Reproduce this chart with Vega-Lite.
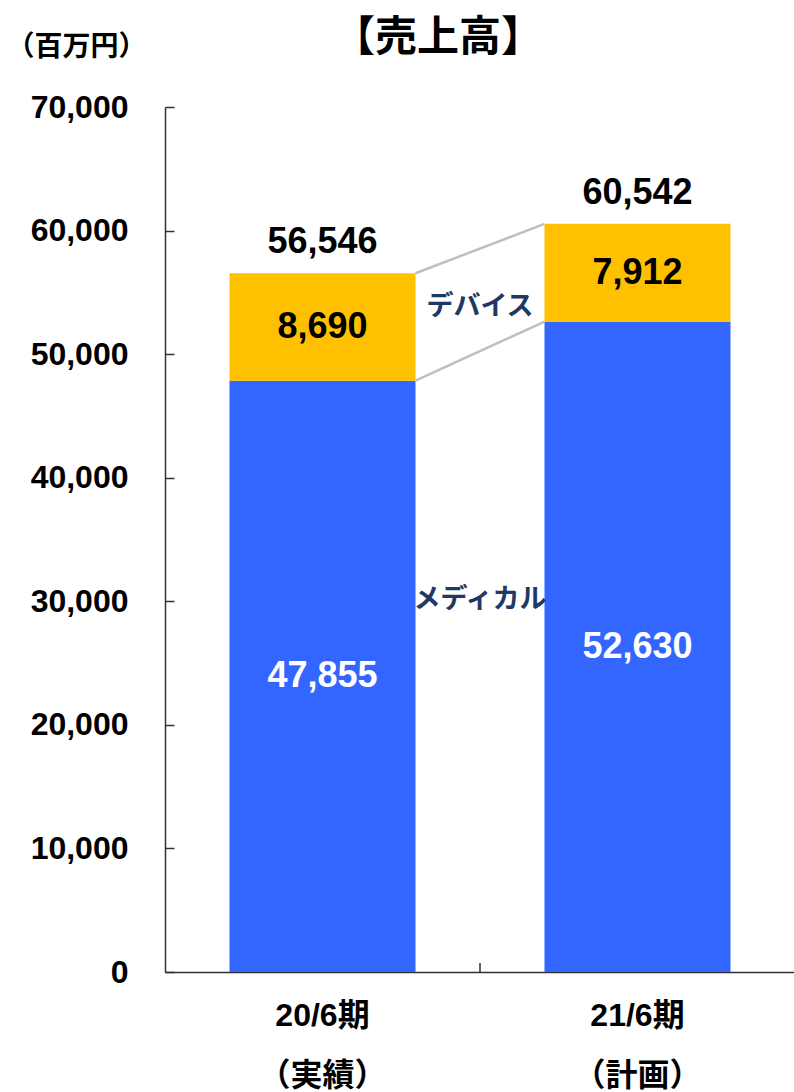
{
  "$schema": "https://vega.github.io/schema/vega-lite/v6.json",
  "width": 630,
  "height": 865,
  "autosize": {"type": "none"},
  "padding": {"left": 165, "top": 107, "right": 0, "bottom": 120},
  "background": "white",
  "title": {"text": "【売上高】", "fontSize": 42, "fontWeight": "bold", "font": "Noto Sans CJK JP", "color": "black", "anchor": "middle", "dx": -42, "offset": -27},
  "config": {"view": {"stroke": null}, "font": "Liberation Sans, Noto Sans CJK JP"},
  "datasets": {
    "main": [
      {"period": "20/6期\n（実績）", "segment": "メディカル", "order": 1, "value": 47855},
      {"period": "20/6期\n（実績）", "segment": "デバイス", "order": 2, "value": 8690},
      {"period": "21/6期\n（計画）", "segment": "メディカル", "order": 1, "value": 52630},
      {"period": "21/6期\n（計画）", "segment": "デバイス", "order": 2, "value": 7912}
    ],
    "totals": [
      {"period": "20/6期\n（実績）", "total": 56546},
      {"period": "21/6期\n（計画）", "total": 60542}
    ],
    "names": [
      {"period": "20/6期\n（実績）", "label": "デバイス", "pos": 53800},
      {"period": "20/6期\n（実績）", "label": "メディカル", "pos": 30100}
    ],
    "links": [
      {"from": "20/6期\n（実績）", "to": "21/6期\n（計画）", "y1": 56546, "y2": 60542},
      {"from": "20/6期\n（実績）", "to": "21/6期\n（計画）", "y1": 47855, "y2": 52630}
    ]
  },
  "layer": [
    {
      "data": {"name": "main"},
      "mark": {"type": "bar", "width": 186},
      "encoding": {
        "x": {"field": "period", "type": "nominal", "sort": null,
          "scale": {"paddingInner": 0, "paddingOuter": 0},
          "axis": {"title": null, "labelAngle": 0, "labelExpr": "split(datum.label, '\\n')",
            "labelFontSize": 32, "labelFontWeight": "bold", "labelColor": "black", "labelLineHeight": 60,
            "labelBaseline": "top", "labelPadding": 28, "ticks": false,
            "domainColor": "#333333", "domainWidth": 1.5, "grid": false}},
        "y": {"field": "value", "type": "quantitative", "stack": "zero",
          "scale": {"domain": [0, 70000], "nice": false},
          "axis": {"title": "（百万円）", "titleAngle": 0, "titleX": -89, "titleY": -60, "titleAlign": "center", "titleBaseline": "middle",
            "titleFontSize": 28, "titleFontWeight": "bold", "titleColor": "black", "titleFont": "Noto Sans CJK JP",
            "values": [0, 10000, 20000, 30000, 40000, 50000, 60000, 70000], "format": ",d", "labelFlush": false,
            "labelFontSize": 32, "labelFontWeight": "bold", "labelColor": "black", "labelPadding": 46,
            "tickSize": -9, "tickColor": "#333333", "tickWidth": 1.5, "domainColor": "#333333", "domainWidth": 1.5, "grid": false}},
        "color": {"field": "segment", "type": "nominal", "scale": {"domain": ["メディカル", "デバイス"], "range": ["#3366FF", "#FFC000"]}, "legend": null},
        "order": {"field": "order", "type": "quantitative"}
      }
    },
    {
      "data": {"name": "main"},
      "mark": {"type": "text", "fontSize": 36, "fontWeight": "bold", "baseline": "middle", "font": "Liberation Sans"},
      "encoding": {
        "x": {"field": "period", "type": "nominal", "sort": null},
        "y": {"field": "value", "type": "quantitative", "stack": "zero", "bandPosition": 0.5},
        "order": {"field": "order", "type": "quantitative"},
        "text": {"field": "value", "type": "quantitative", "format": ","},
        "color": {"condition": {"test": "datum.segment == 'メディカル'", "value": "white"}, "value": "black"}
      }
    },
    {
      "data": {"name": "totals"},
      "mark": {"type": "text", "fontSize": 36, "fontWeight": "bold", "baseline": "alphabetic", "dy": -20, "color": "black", "font": "Liberation Sans"},
      "encoding": {
        "x": {"field": "period", "type": "nominal", "sort": null},
        "y": {"field": "total", "type": "quantitative"},
        "text": {"field": "total", "type": "quantitative", "format": ","}
      }
    },
    {
      "data": {"name": "totals"},
      "mark": {"type": "tick", "orient": "vertical", "size": 9, "thickness": 1.5, "color": "#333333", "yOffset": -4.5, "opacity": 1},
      "encoding": {
        "x": {"field": "period", "type": "nominal", "sort": null, "bandPosition": 1},
        "y": {"datum": 0, "type": "quantitative"}
      }
    },
    {
      "data": {"name": "names"},
      "mark": {"type": "text", "fontSize": 27, "fontWeight": "bold", "baseline": "middle", "color": "#203864", "font": "Noto Sans CJK JP"},
      "encoding": {
        "x": {"field": "period", "type": "nominal", "sort": null, "bandPosition": 1},
        "y": {"field": "pos", "type": "quantitative"},
        "text": {"field": "label", "type": "nominal"}
      }
    },
    {
      "data": {"name": "links"},
      "mark": {"type": "rule", "color": "#BFBFBF", "strokeWidth": 2.5},
      "encoding": {
        "x": {"field": "from", "type": "nominal", "sort": null, "bandPosition": 0.7952},
        "x2": {"field": "to", "bandPosition": 0.2048},
        "y": {"field": "y1", "type": "quantitative"},
        "y2": {"field": "y2"}
      }
    }
  ]
}
